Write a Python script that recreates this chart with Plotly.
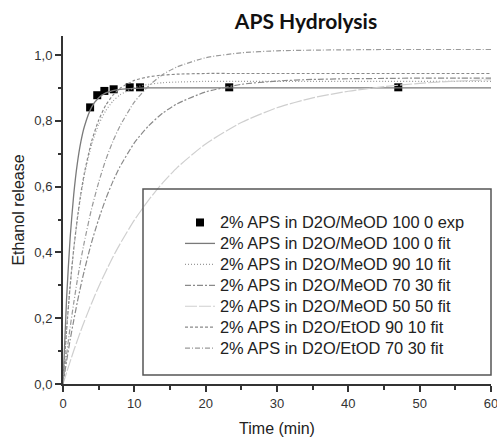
import plotly.graph_objects as go

# ---- data ----
exp_time = [3.8, 4.8, 5.8, 7.1, 9.35, 10.8, 23.3, 47.0]
exp_release = [0.841, 0.878, 0.891, 0.896, 0.902, 0.902, 0.902, 0.902]

fit_time = [0, 0.5, 1, 1.5, 2, 2.5, 3, 4, 5, 6, 7, 8, 10, 12, 14, 16, 20, 25, 30, 35, 40, 45, 50, 55, 60]
fit_meod_100_0 = [0, 0.259, 0.444, 0.575, 0.669, 0.736, 0.783, 0.841, 0.870, 0.885, 0.892, 0.896, 0.899,
                  0.900, 0.900, 0.900, 0.900, 0.900, 0.900, 0.900, 0.900, 0.900, 0.900, 0.900, 0.900]
fit_meod_90_10 = [0, 0.163, 0.297, 0.408, 0.498, 0.573, 0.635, 0.727, 0.789, 0.831, 0.860, 0.879, 0.901,
                  0.911, 0.916, 0.918, 0.920, 0.920, 0.920, 0.920, 0.920, 0.920, 0.920, 0.920, 0.920]
fit_meod_70_30 = [0, 0.069, 0.134, 0.193, 0.248, 0.299, 0.346, 0.430, 0.501, 0.563, 0.616, 0.661, 0.733,
                  0.785, 0.824, 0.852, 0.888, 0.911, 0.921, 0.926, 0.928, 0.929, 0.930, 0.930, 0.930]
fit_meod_50_50 = [0, 0.035, 0.068, 0.101, 0.132, 0.162, 0.191, 0.245, 0.296, 0.342, 0.386, 0.426, 0.498,
                  0.559, 0.612, 0.658, 0.730, 0.795, 0.840, 0.870, 0.890, 0.904, 0.914, 0.921, 0.925]
fit_etod_90_10 = [0, 0.163, 0.298, 0.410, 0.502, 0.579, 0.642, 0.737, 0.802, 0.848, 0.878, 0.899, 0.923,
                  0.934, 0.939, 0.942, 0.944, 0.944, 0.944, 0.944, 0.944, 0.944, 0.944, 0.944, 0.944]
fit_etod_70_30 = [0, 0.090, 0.172, 0.246, 0.315, 0.377, 0.433, 0.532, 0.613, 0.682, 0.738, 0.785, 0.857,
                  0.906, 0.941, 0.964, 0.992, 1.007, 1.013, 1.015, 1.016, 1.017, 1.017, 1.017, 1.017]

names = [
    "2% APS in D2O/MeOD 100 0 exp",
    "2% APS in D2O/MeOD 100 0 fit",
    "2% APS in D2O/MeOD 90 10 fit",
    "2% APS in D2O/MeOD 70 30 fit",
    "2% APS in D2O/MeOD 50 50 fit",
    "2% APS in D2O/EtOD 90 10 fit",
    "2% APS in D2O/EtOD 70 30 fit",
]
x_ticks = [0, 10, 20, 30, 40, 50, 60]
y_ticks = [0.0, 0.2, 0.4, 0.6, 0.8, 1.0]

fits = [fit_meod_100_0, fit_meod_90_10, fit_meod_70_30, fit_meod_50_50, fit_etod_90_10, fit_etod_70_30]
styles = [
    dict(color="#7a7a7a", width=1.3, dash="solid"),
    dict(color="#9a9a9a", width=1.2, dash="1px,2px"),
    dict(color="#8a8a8a", width=1.2, dash="6px,2px,2px,2px"),
    dict(color="#cfcfcf", width=1.2, dash="12px,2px"),
    dict(color="#8a8a8a", width=1.2, dash="3px,2px"),
    dict(color="#9a9a9a", width=1.2, dash="5px,2px,1px,2px"),
]

def legend_label(s):
    return '<span style="font-size:16.4px">' + s + '</span>'

fig = go.Figure()
fig.add_trace(go.Scatter(x=exp_time, y=exp_release, mode="markers", name=legend_label(names[0]),
                         marker=dict(symbol="square", size=8, color="black")))
for nm, ys, st in zip(names[1:], fits, styles):
    fig.add_trace(go.Scatter(x=fit_time, y=ys, mode="lines", name=legend_label(nm),
                             line=dict(shape="spline", smoothing=0.6, **st)))

W, H = 497, 438
ml, mr, mt, mb = 63, 6, 36, 54
pw, ph = W - ml - mr, H - mt - mb

def px_x(p):
    return (p - ml) / pw

def px_y(p):
    return (H - mb - p) / ph

fig.update_layout(
    width=W, height=H,
    margin=dict(l=ml, r=mr, t=mt, b=mb, autoexpand=False),
    paper_bgcolor="white", plot_bgcolor="white",
    separators=",.",
    font=dict(family="Liberation Sans, Arial, sans-serif", color="#222"),
    title=dict(text="<b>APS Hydrolysis</b>", font=dict(family="Lato, Carlito, sans-serif", size=21, color="#111"),
               x=px_x(306), xref="paper", xanchor="center", y=1 - 22 / H, yanchor="middle"),
    showlegend=True,
    legend=dict(x=px_x(180), y=px_y(207), xanchor="left", yanchor="top",
                bgcolor="rgba(0,0,0,0)", borderwidth=0,
                font=dict(size=13.8, color="#222", family="Liberation Sans, Arial, sans-serif")),
    shapes=[dict(type="rect", xref="paper", yref="paper",
                 x0=px_x(143), x1=1.0, y0=px_y(375), y1=px_y(189),
                 line=dict(color="#555", width=1.5), fillcolor="rgba(0,0,0,0)", layer="above")],
)
fig.update_xaxes(range=[0, 60], tickvals=x_ticks, ticks="outside", ticklen=6, tickwidth=1.5,
                 tickcolor="#333", showline=True, linecolor="#333", linewidth=2, showgrid=False,
                 zeroline=False, tickfont=dict(size=13, color="#333"), ticklabeloverflow="allow",
                 automargin=False,
                 minor=dict(dtick=5, tick0=0, ticks="outside", ticklen=3.5, tickwidth=1.5, tickcolor="#333"),
                 title=dict(text="Time (min)", font=dict(size=16, color="#222"), standoff=13))
fig.update_yaxes(range=[0, 1.058], tickvals=y_ticks, tickformat=".1f", ticks="outside", ticklen=6,
                 tickwidth=1.5, tickcolor="#333", showline=True, linecolor="#333", linewidth=2,
                 showgrid=False, zeroline=False, tickfont=dict(size=13, color="#333"),
                 automargin=False,
                 minor=dict(dtick=0.1, tick0=0, ticks="outside", ticklen=3.5, tickwidth=1.5, tickcolor="#333"),
                 title=dict(text="Ethanol release", font=dict(size=16, color="#222"), standoff=6))

fig.write_html("out.html", config={"displayModeBar": False},
               post_script="document.body.style.margin='0';")
